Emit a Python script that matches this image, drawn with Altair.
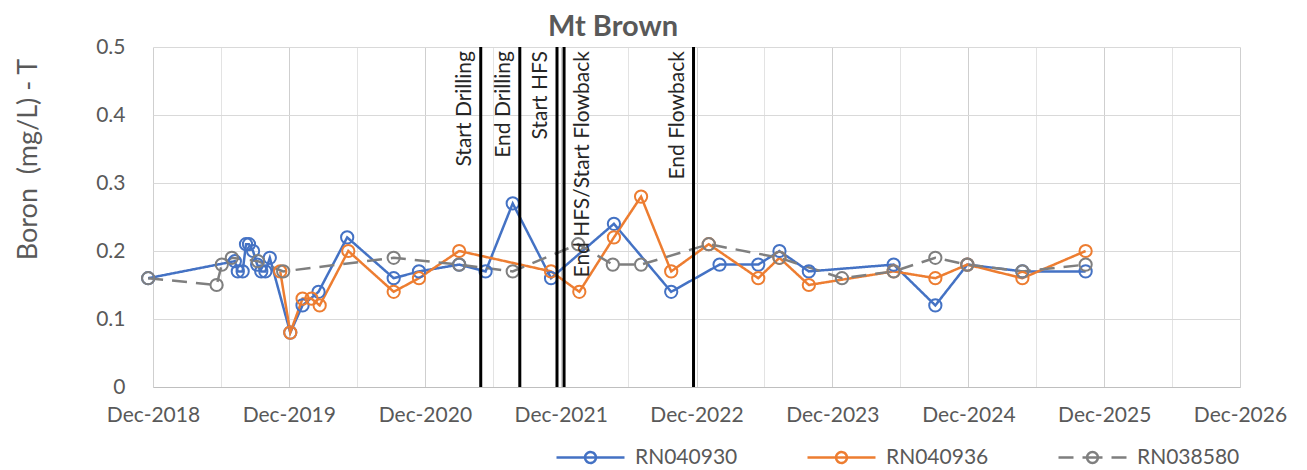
import altair as alt
import pandas as pd

# ---- data ----
series_names = ["RN040930", "RN040936", "RN038580"]
series_colors = ["#4472C4", "#ED7D31", "#7F7F7F"]

blue_dates = ["2018-11-18", "2019-07-09", "2019-07-17", "2019-07-30", "2019-08-08",
              "2019-08-16", "2019-08-27", "2019-09-07", "2019-09-18", "2019-09-29",
              "2019-10-11", "2019-12-05", "2020-01-07", "2020-02-19", "2020-05-06",
              "2020-09-08", "2020-11-15", "2021-03-03", "2021-05-13", "2021-07-25",
              "2021-11-05", "2022-04-23", "2022-09-24", "2023-02-01", "2023-05-16",
              "2023-07-12", "2023-09-29", "2024-05-14", "2024-09-03", "2024-11-28",
              "2025-04-25", "2025-10-12"]
blue_vals = [0.16, 0.185, 0.17, 0.17, 0.21,
             0.21, 0.20, 0.18, 0.17, 0.17,
             0.19, 0.08, 0.12, 0.14, 0.22,
             0.16, 0.17, 0.18, 0.17, 0.27,
             0.16, 0.24, 0.14, 0.18, 0.18,
             0.20, 0.17, 0.18, 0.12, 0.18,
             0.17, 0.17]

orange_dates = ["2019-11-08", "2019-12-05", "2020-01-07", "2020-01-31", "2020-02-22",
                "2020-05-09", "2020-09-08", "2020-11-15", "2021-03-03", "2021-11-05",
                "2022-01-20", "2022-04-23", "2022-07-05", "2022-09-24", "2023-01-03",
                "2023-05-16", "2023-07-12", "2023-09-29", "2024-05-14", "2024-09-03",
                "2024-11-28", "2025-04-25", "2025-10-12"]
orange_vals = [0.17, 0.08, 0.13, 0.13, 0.12,
               0.20, 0.14, 0.16, 0.20, 0.17,
               0.14, 0.22, 0.28, 0.17, 0.21,
               0.16, 0.19, 0.15, 0.17, 0.16,
               0.18, 0.16, 0.20]

grey_dates = ["2018-11-18", "2019-05-21", "2019-06-04", "2019-07-01", "2019-09-09",
              "2019-11-16", "2020-09-08", "2021-03-03", "2021-07-25", "2022-01-17",
              "2022-04-20", "2022-07-05", "2023-01-03", "2023-07-12", "2023-12-27",
              "2024-05-14", "2024-09-03", "2024-11-28", "2025-04-25", "2025-10-12"]
grey_vals = [0.16, 0.15, 0.18, 0.19, 0.185,
             0.17, 0.19, 0.18, 0.17, 0.21,
             0.18, 0.18, 0.21, 0.19, 0.16,
             0.17, 0.19, 0.18, 0.17, 0.18]

event_dates = ["2021-04-30", "2021-08-13", "2021-11-21", "2021-12-10", "2022-11-23"]
event_labels = ["Start Drilling", "End Drilling", "Start HFS", "End HFS/Start Flowback", "End Flowback"]
event_side = ["left", "left", "left", "right", "left"]

y_ticks = [0, 0.1, 0.2, 0.3, 0.4, 0.5]

# ---- tables ----
rows = []
for name, ds, vs in zip(series_names, [blue_dates, orange_dates, grey_dates],
                        [blue_vals, orange_vals, grey_vals]):
    for d, v in zip(ds, vs):
        rows.append({"series": name, "date": d, "value": v})
df = pd.DataFrame(rows)
ev = pd.DataFrame({"date": event_dates, "label": event_labels, "side": event_side})

quarter_ticks = []
for yr in range(2018, 2027):
    for m in [3, 6, 9, 12]:
        if yr == 2018 and m < 12:
            continue
        quarter_ticks.append(alt.DateTime(year=yr, month=m, date=1, utc=True))

FONT = "Lato"
GRAY = "#595959"

x_scale = alt.Scale(type="utc",
                    domain=[alt.DateTime(year=2018, month=12, date=1, utc=True),
                            alt.DateTime(year=2026, month=12, date=1, utc=True)])
x_axis = alt.Axis(values=quarter_ticks,
                  labelExpr="utcmonth(datum.value) == 11 ? utcFormat(datum.value, '%b-%Y') : ''",
                  gridColor={"condition": {"test": "utcmonth(datum.value) == 11", "value": "#cfcfcf"},
                             "value": "#e3e3e3"},
                  ticks=False, labelPadding=17, domainColor="#bfbfbf", labelOverlap=False,
                  labelFlush=False, labelFontSize=21)
y_axis = alt.Axis(values=y_ticks, format="~g", ticks=False, domain=False,
                  labelPadding=28, gridColor="#d9d9d9", titleX=-125, titleY=112,
                  titleAngle=270, titleBaseline="middle", titleAlign="center",
                  labelFontSize=21, titleFontSize=27)

# legend symbol: line with a small circle; built from short sub-paths so that the
# dashed series shows "— ⊖ —" (dash pattern restarts on each sub-path)
sym_path = ("M-1,0L-0.16,0M-0.16,0L0.16,0M1,0L0.16,0"
            "M-0.16,0A0.16,0.16 0 0,1 0,-0.16M0,-0.16A0.16,0.16 0 0,1 0.16,0"
            "M0.16,0A0.16,0.16 0 0,1 0,0.16M0,0.16A0.16,0.16 0 0,1 -0.16,0")
leg = alt.Legend(orient="none", legendX=402, legendY=375, direction="horizontal",
                 title=None, symbolType=sym_path, symbolSize=4624, symbolStrokeWidth=2.5,
                 labelFontSize=21, labelFont=FONT, labelColor=GRAY, columnPadding=64,
                 labelOffset=9)

base = alt.Chart(df)
lines = base.mark_line(strokeWidth=2.5).encode(
    x=alt.X("date:T", scale=x_scale, axis=x_axis, title=None),
    y=alt.Y("value:Q", scale=alt.Scale(domain=[0, 0.5]), axis=y_axis, title="Boron\u00a0\u00a0(mg/L) - T"),
    color=alt.Color("series:N", scale=alt.Scale(domain=series_names, range=series_colors), legend=leg),
    strokeDash=alt.StrokeDash("series:N", scale=alt.Scale(domain=series_names,
                                                          range=[[1, 0], [1, 0], [15, 9]]), legend=leg),
)
points = base.mark_point(shape="circle", filled=False, size=150, strokeWidth=2, opacity=1).encode(
    x="date:T",
    y="value:Q",
    stroke=alt.Stroke("series:N", scale=alt.Scale(domain=series_names, range=series_colors), legend=None),
)

rules = alt.Chart(ev).mark_rule(color="black", strokeWidth=3).encode(x="date:T")
txt_left = alt.Chart(ev).transform_filter("datum.side == 'left'").mark_text(
    angle=270, align="right", baseline="bottom", dy=-6, font=FONT, fontSize=21, color="#262626"
).encode(x="date:T", y=alt.datum(0.494), text="label:N")
txt_right = alt.Chart(ev).transform_filter("datum.side == 'right'").mark_text(
    angle=270, align="right", baseline="top", dy=8, font=FONT, fontSize=21, color="#262626"
).encode(x="date:T", y=alt.datum(0.494), text="label:N")

chart = alt.layer(lines, points, rules, txt_left, txt_right).properties(
    width=1087, height=340,
    title=alt.TitleParams("Mt Brown", anchor="start", frame="group", dx=395, offset=-6,
                          font=FONT, fontSize=29, fontWeight="bold", color=GRAY),
    padding={"left": 5, "top": 5, "right": 5, "bottom": 0},
).configure_axis(
    labelFont=FONT, labelColor=GRAY,
    titleFont=FONT, titleColor=GRAY, titleFontWeight="normal",
).configure_view(stroke=None)

chart.save("out.html", embed_options={"renderer": "svg", "actions": False})
